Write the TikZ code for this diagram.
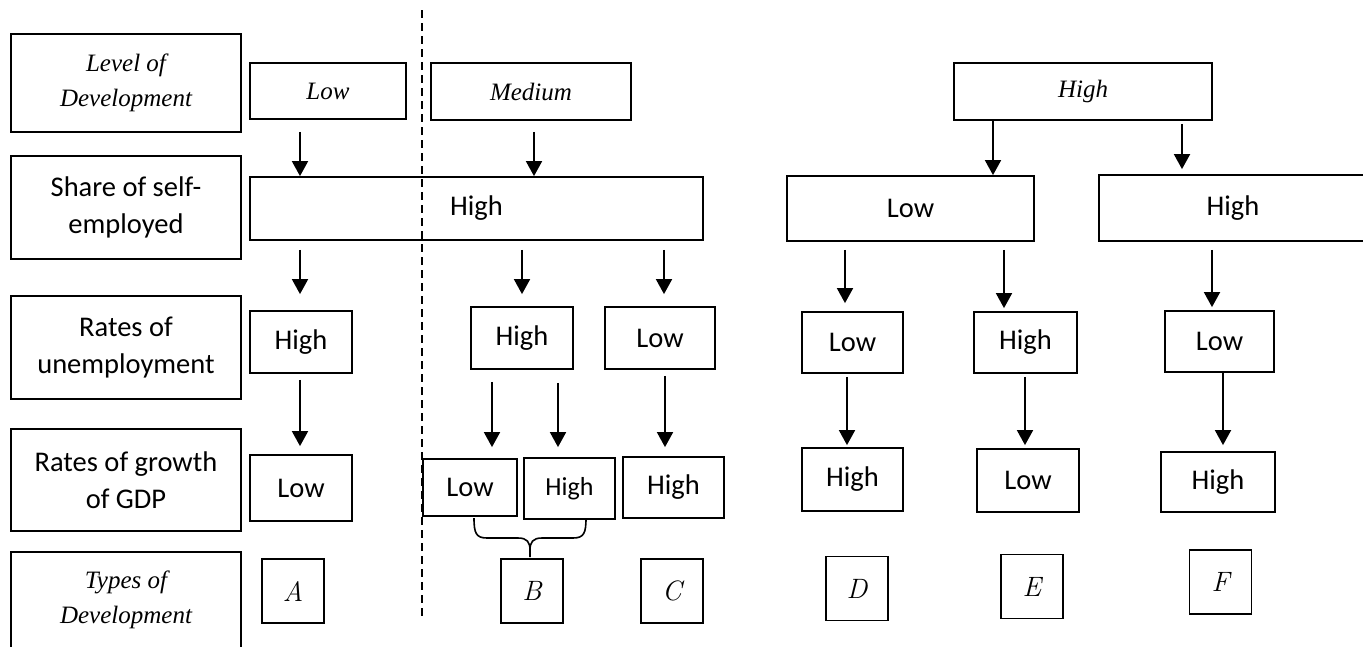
\documentclass[tikz,border=0pt]{standalone}
\usepackage{fontspec}
\setsansfont{Carlito}
\newfontfamily\serifit{Liberation Serif}
\usetikzlibrary{arrows.meta}
\newcommand{\txtfont}{\sffamily\fontsize{28.5}{37}\selectfont}
\newcommand{\smlfont}{\sffamily\fontsize{26}{30}\selectfont}
\newcommand{\itfont}{\serifit\itshape\fontsize{25}{35}\selectfont}
\newcommand{\letfont}{\itshape\fontsize{28}{30}\selectfont}

\begin{document}
\begin{tikzpicture}[x=1pt, y=-1pt,
    box/.style={draw, line width=1.8pt, inner sep=0pt, align=center, font=\txtfont},
    arr/.style={line width=1.8pt, -{Triangle[width=16pt,length=15pt]}},
    dashln/.style={line width=1.6pt, dash pattern=on 8pt off 5pt}]
    \useasboundingbox (0,0) rectangle (1363,646);
    \clip (0,0) rectangle (1363,646);

    % row labels
    \node[box, minimum width=230pt, minimum height=98pt, font=\itfont] (lab1) at (126,83) {Level of\\Development};
    \node[box, minimum width=230pt, minimum height=103pt] (lab2) at (126,207.5) {Share of self-\\employed};
    \node[box, minimum width=230pt, minimum height=103pt] (lab3) at (126,347.5) {Rates of\\unemployment};
    \node[box, minimum width=230pt, minimum height=102pt] (lab4) at (126,480) {Rates of growth\\of GDP};
    \node[box, minimum width=230pt, minimum height=96pt, font=\itfont] (lab5) at (126,600) {Types of\\Development};

    % level of development
    \node[box, minimum width=156pt, minimum height=56pt, font=\itfont] (lvl1) at (328,91) {Low};
    \node[box, minimum width=200pt, minimum height=57pt, font=\itfont] (lvl2) at (531,91.5) {Medium};
    \node[box, minimum width=258pt, minimum height=57pt, font=\itfont] (lvl3) at (1083,91.5) {High};

    % share of self-employed
    \node[box, minimum width=453pt, minimum height=63pt] (sh1) at (476.5,208.5) {High};
    \node[box, minimum width=247pt, minimum height=65pt] (sh2) at (910.5,208.5) {Low};
    \node[box, minimum width=268pt, minimum height=66pt] (sh3) at (1233,208) {High};

    % unemployment
    \node[box, minimum width=102pt, minimum height=62pt] (un1) at (301,342) {High};
    \node[box, minimum width=102pt, minimum height=62pt] (un2) at (522,338) {High};
    \node[box, minimum width=110pt, minimum height=62pt] (un3) at (660,338) {Low};
    \node[box, minimum width=101pt, minimum height=61pt] (un4) at (852.5,342.5) {Low};
    \node[box, minimum width=103pt, minimum height=61pt] (un5) at (1025.5,342.5) {High};
    \node[box, minimum width=109pt, minimum height=61pt] (un6) at (1219.5,341.5) {Low};

    % growth of GDP
    \node[box, minimum width=102pt, minimum height=66pt] (gr1) at (301,488) {Low};
    \node[box, minimum width=94pt, minimum height=57pt] (gr2) at (470,487.5) {Low};
    \node[box, minimum width=91pt, minimum height=61pt, font=\smlfont] (gr3) at (569.5,488.5) {High};
    \node[box, minimum width=101pt, minimum height=61pt] (gr4) at (673.5,487.5) {High};
    \node[box, minimum width=101pt, minimum height=63pt] (gr5) at (852.5,479.5) {High};
    \node[box, minimum width=102pt, minimum height=63pt] (gr6) at (1028,480.5) {Low};
    \node[box, minimum width=114pt, minimum height=60pt] (gr7) at (1218,482) {High};

    % types
    \foreach \i/\x/\y/\t in {1/293/591/A, 2/532/591/B, 3/672/591/C, 4/857/588.5/D, 5/1032/586.5/E, 6/1220.5/582/F} {
        \node[box, minimum width=62pt, minimum height=64pt, font=\letfont] (ty\i) at (\x,\y) {\t};
    }

    \foreach \x/\a/\b/\s/\e in {
        300/lvl1/sh1/12pt/0pt, 534/lvl2/sh1/11pt/0pt, 993/lvl3/sh2/0pt/0pt, 1182/lvl3/sh3/3pt/5pt,
        300/sh1/un1/9pt/16pt, 522/sh1/un2/9pt/12pt, 664/sh1/un3/9pt/12pt,
        845/sh2/un4/8pt/8pt, 1004/sh2/un5/8pt/3pt, 1212/sh3/un6/8pt/3pt,
        300/un1/gr1/6pt/8pt, 492/un2/gr2/12pt/11pt, 558/un2/gr3/13pt/10pt, 665/un3/gr4/6pt/9pt,
        847/un4/gr5/3pt/2pt, 1025/un5/gr6/3pt/3pt, 1223/un6/gr7/0pt/6pt} {
        \draw[arr, shorten <=\s, shorten >=\e] (\x,0 |- \a.south) -- (\x,0 |- \b.north);
    }

    % brace under B
    \draw[line width=1.6pt] (474,518) .. controls (474,533) and (476,538) .. (487,538) -- (518,538)
        .. controls (527,538) and (530,542) .. (530,550) -- (530,557);
    \draw[line width=1.6pt] (586,518) .. controls (586,533) and (584,538) .. (573,538) -- (542,538)
        .. controls (533,538) and (530,542) .. (530,550);

    \draw[dashln] (422,10) -- (422,618);
\end{tikzpicture}
\end{document}
